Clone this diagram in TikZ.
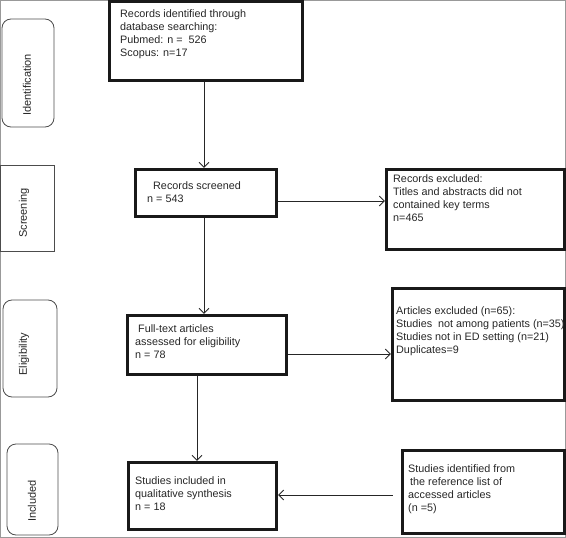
\documentclass[tikz,border=0pt]{standalone}
\usepackage{fontspec}
\setmainfont{Liberation Sans}
\usetikzlibrary{arrows.meta}
\begin{document}
\begin{tikzpicture}[x=1pt,y=-1pt,
 mainbox/.style={draw=black!90,line width=3.2pt,inner sep=0pt},
 stagebox/.style={draw=black!70,line width=0.8pt},
 txt/.style={anchor=north west,inner sep=0pt,align=left,font=\fontsize{10.8}{13}\selectfont,text=black!85},
 stagetxt/.style={rotate=90,inner sep=0pt,font=\fontsize{11}{12}\selectfont,text=black!85},
 arr/.style={draw=black!85,line width=0.9pt,-{Straight Barb[length=5pt,width=10pt]}}]
\useasboundingbox (0,0) rectangle (566,538);
\draw[black!40,line width=1pt] (0.5,0.5) rectangle (565.5,537.5);
% stage boxes
\draw[stagebox,rounded corners=9pt] (2,19) rectangle (54,127);
\draw[stagebox] (0.5,165) rectangle (54,251);
\draw[stagebox,rounded corners=9pt] (3,300) rectangle (57,397);
\draw[stagebox,rounded corners=9pt] (7,444) rectangle (58,535);
\node[stagetxt] (s1) at (27,85) {Identification};
\node[stagetxt] (s2) at (24,213) {Screening};
\node[stagetxt] (s3) at (24,354) {Eligibility};
\node[stagetxt] (s4) at (32,501) {Included};
% main boxes
\node[mainbox,minimum width=193pt,minimum height=79pt] (b1) at (206,41) {};
\node[mainbox,minimum width=141pt,minimum height=47pt] (b2) at (206,193) {};
\node[mainbox,minimum width=178pt,minimum height=80pt] (b3) at (475.5,209.5) {};
\node[mainbox,minimum width=159pt,minimum height=59pt] (b4) at (207,345) {};
\node[mainbox,minimum width=172pt,minimum height=112pt] (b5) at (478.5,344.5) {};
\node[mainbox,minimum width=148pt,minimum height=67pt] (b6) at (202.5,496) {};
\node[mainbox,minimum width=162pt,minimum height=83pt] (b7) at (483.5,492) {};
% texts
\node[txt] (t1) at (120,9) {Records identified through\\database searching:\\Pubmed: n = \ 526\\Scopus: n=17};
\node[txt] (t2) at (147,181) {\hspace{6pt}Records screened\\n = 543};
\node[txt] (t3) at (393,174) {Records excluded:\\Titles and abstracts did not\\contained key terms\\n=465};
\node[txt] (t4) at (135,324) {\hspace{3pt}Full-text articles\\assessed for eligibility\\n = 78};
\node[txt] (t5) at (396,306) {Articles excluded (n=65):\\Studies \ not among patients (n=35)\\Studies not in ED setting (n=21)\\Duplicates=9};
\node[txt] (t6) at (135,476) {Studies included in\\qualitative synthesis\\n = 18};
\node[txt] (t7) at (408,464) {Studies identified from\\\hspace{2pt}the reference list of\\accessed articles\\(n =5)};
% arrows
\draw[arr] (b1.south -| 204,0) -- (b2.north -| 204,0);
\draw[arr] (b2.east |- 0,201) -- (b3.west |- 0,201);
\draw[arr] (b2.south -| 204,0) -- (b4.north -| 204,0);
\draw[arr] (b4.east |- 0,354) -- (b5.west |- 0,354);
\draw[arr] (b4.south -| 197,0) -- (b6.north -| 197,0);
\draw[arr,shorten <=8pt] (b7.west |- 0,495) -- (b6.east |- 0,495);
\end{tikzpicture}
\end{document}
